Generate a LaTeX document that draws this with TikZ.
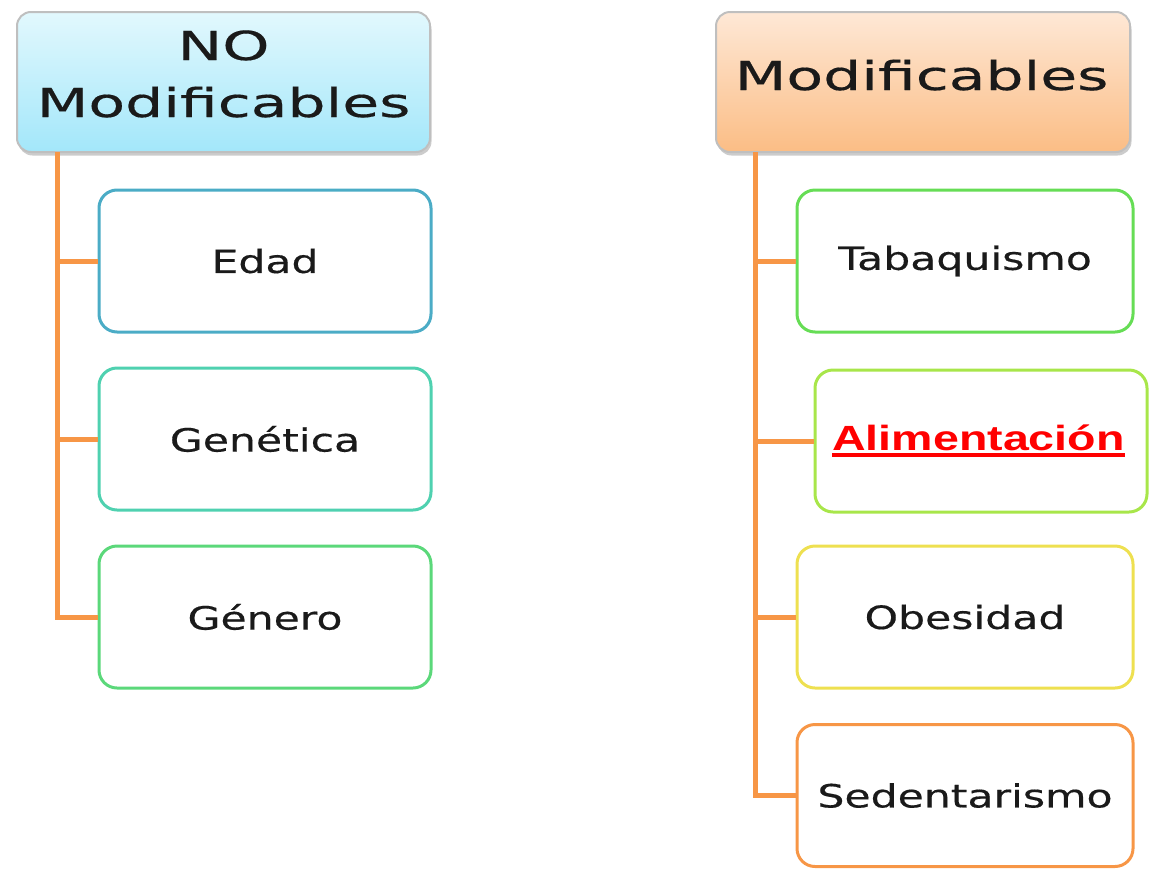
\documentclass[tikz,border=0pt]{standalone}
\usepackage{fontspec}
\usetikzlibrary{shadows}
\newfontfamily\boxfont[FakeStretch=1.33,FakeBold=0.4]{DejaVu Sans}
\newfontfamily\headfont[FakeStretch=1.5,FakeBold=0.4]{DejaVu Sans}
\newfontfamily\alimfont[FakeStretch=1.33]{Liberation Sans}
\definecolor{conn}{HTML}{F79646}
\definecolor{cEdad}{HTML}{4BACC6}
\definecolor{cGen}{HTML}{4FD1B0}
\definecolor{cGenero}{HTML}{5BD87A}
\definecolor{cTab}{HTML}{66DD55}
\definecolor{cAlim}{HTML}{A8E64A}
\definecolor{cObe}{HTML}{EEE050}
\definecolor{cSed}{HTML}{F79646}
\definecolor{hBlueTop}{HTML}{E2F8FD}
\definecolor{hBlueBot}{HTML}{A3E7FA}
\definecolor{hOrTop}{HTML}{FEE8D6}
\definecolor{hOrBot}{HTML}{FBBD85}
\definecolor{txt}{HTML}{1A1A1A}
\tikzset{
  headbox/.style={draw=black!25, line width=2pt, rounded corners=14pt,
    minimum width=413pt, minimum height=140pt, inner sep=0pt,
    drop shadow={shadow xshift=1.5pt, shadow yshift=-3.5pt, opacity=0.4}},
  headtext/.style={inner sep=0pt, text=txt, anchor=base,
    font=\headfont\fontsize{40}{48}\selectfont},
  childbox/.style={draw=#1, line width=3pt, rounded corners=18pt, fill=white,
    minimum height=142pt, inner sep=0pt, text=txt,
    font=\boxfont\fontsize{32}{38}\selectfont},
  connline/.style={draw=conn, line width=5pt}
}
\begin{document}
\begin{tikzpicture}[x=1pt,y=-1pt]
\useasboundingbox (0,0) rectangle (1153,873);
% headers
\node[headbox, top color=hBlueTop, bottom color=hBlueBot] (lh) at (223.5,82) {};
\node[headtext] (lht1) at (223.5,60) {NO};
\node[headtext] (lht2) at (223.5,117) {Modificables};
\node[headbox, top color=hOrTop, bottom color=hOrBot, minimum width=414pt] (rh) at (923,82) {};
\node[headtext] (rht) at (921.5,90) {Modificables};
% left children
\node[childbox=cEdad, minimum width=332pt] (edad) at (265,261) {Edad};
\node[childbox=cGen, minimum width=332pt] (gen) at (265,439) {Genética};
\node[childbox=cGenero, minimum width=332pt] (genero) at (265,617) {Género};
% right children
\node[childbox=cTab, minimum width=336pt] (tab) at (965,261) {Tabaquismo};
\node[childbox=cAlim, minimum width=332pt] (alim) at (981,441) {};
\node[text=red, inner sep=0pt, font=\alimfont\bfseries\fontsize{35}{40}\selectfont, anchor=base] (alimtxt) at (978.5,450) {Alimentación};
\draw[red, line width=3.5pt] ([yshift=-5pt]alimtxt.base west) -- ([yshift=-5pt]alimtxt.base east);
\node[childbox=cObe, minimum width=336pt] (obe) at (965,617) {Obesidad};
\node[childbox=cSed, minimum width=336pt] (sed) at (965,795.5) {Sedentarismo};
% connectors
\coordinate (lt) at (57,152);
\coordinate (rt) at (755,152);
\draw[connline] (lt) |- (edad.west);
\draw[connline] (lt) |- (gen.west);
\draw[connline] (lt) |- (genero.west);
\draw[connline] (rt) |- (tab.west);
\draw[connline] (rt) |- (alim.west);
\draw[connline] (rt) |- (obe.west);
\draw[connline] (rt) |- (sed.west);
\end{tikzpicture}
\end{document}
